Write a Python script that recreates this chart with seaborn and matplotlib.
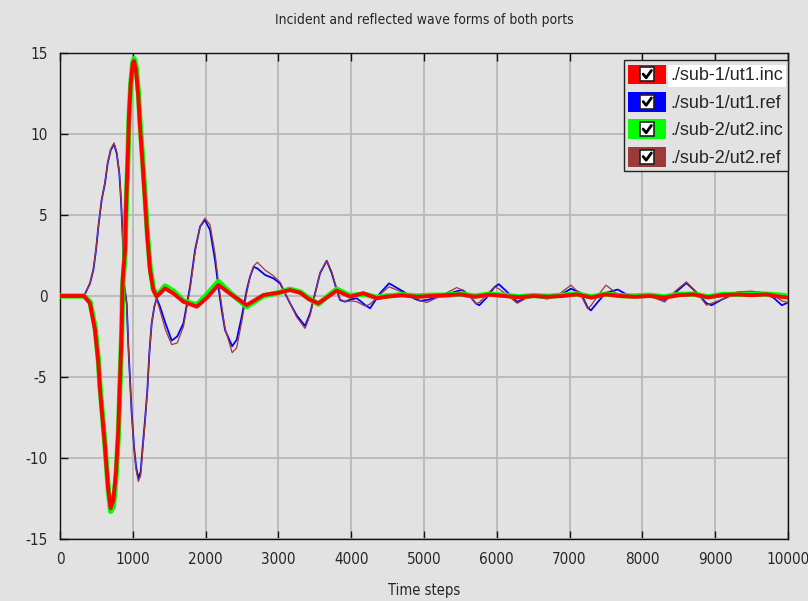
import matplotlib
matplotlib.use("Agg")
import matplotlib.pyplot as plt
from matplotlib import font_manager
import seaborn as sns
import pandas as pd
from matplotlib.patches import Patch, Rectangle
from matplotlib.lines import Line2D
from matplotlib.legend_handler import HandlerBase

# ---------------- data ----------------
inc_t = [0, 330, 412, 481, 527, 550, 586, 618, 641, 664,
         696, 733, 769, 801, 824, 847, 861, 893, 907, 930,
         948, 971, 999, 1017, 1044, 1076, 1099, 1131, 1168, 1200,
         1237, 1282, 1328, 1443, 1560, 1695, 1878, 2020, 2175, 2350,
         2565, 2794, 3000, 3160, 3300, 3420, 3549, 3680, 3801, 3984,
         4167, 4351, 4488, 4700, 4900, 5100, 5300, 5500, 5700, 5900,
         6100, 6300, 6500, 6700, 6900, 7100, 7300, 7500, 7700, 7900,
         8100, 8300, 8500, 8700, 8900, 9100, 9300, 9500, 9700, 9900,
         10000]
ut1_inc = [0, 0, -0.45, -2.1, -4.15, -5.8, -7.65, -9.3, -10.7, -12.0,
           -13.1, -12.6, -10.9, -8.3, -5.2, -2.1, 1.0, 2.84, 5.5, 8.4,
           11.1, 13.1, 14.36, 14.5, 13.95, 12.3, 10.45, 8.4, 5.9, 3.66,
           1.6, 0.37, -0.04, 0.47, 0.15, -0.35, -0.66, -0.1, 0.68, 0.1,
           -0.56, 0.06, 0.2, 0.37, 0.2, -0.2, -0.45, -0.05, 0.33, -0.04,
           0.17, -0.14, -0.04, 0.05, -0.05, 0.0, 0.05, 0.1, -0.05, 0.08,
           0.0, -0.08, 0.0, -0.05, 0.0, 0.1, -0.1, 0.1, 0.0, -0.05,
           0.0, -0.1, 0.05, 0.1, -0.08, 0.05, 0.1, 0.05, 0.1, -0.05,
           -0.1]
ut2_inc = [0, 0, -0.35, -1.9, -3.9, -5.6, -7.5, -9.2, -10.6, -12.0,
           -13.3, -13.0, -11.2, -8.6, -5.5, -2.4, 0.6, 2.6, 5.2, 8.1,
           10.9, 13.0, 14.4, 14.65, 14.2, 12.6, 10.8, 8.7, 6.2, 3.9,
           1.8, 0.45, 0.0, 0.62, 0.3, -0.3, -0.55, 0.1, 0.9, 0.15,
           -0.66, 0.0, 0.2, 0.42, 0.25, -0.15, -0.5, 0.0, 0.42, 0.02,
           0.12, -0.08, 0.0, 0.08, 0.0, 0.05, 0.05, 0.12, 0.0, 0.12,
           0.05, -0.05, 0.03, -0.02, 0.05, 0.12, -0.05, 0.12, 0.02, 0.0,
           0.05, -0.05, 0.1, 0.12, -0.05, 0.1, 0.1, 0.1, 0.12, 0.05,
           0.0]

ref_t = [0, 330, 412, 458, 495, 527, 572, 618, 655, 696,
         742, 779, 815, 838, 861, 879, 916, 939, 962, 985,
         1017, 1044, 1076, 1108, 1136, 1168, 1200, 1227, 1259, 1296,
         1328, 1374, 1450, 1534, 1610, 1695, 1786, 1855, 1924, 1990,
         2061, 2130, 2175, 2221, 2267, 2365, 2427, 2496, 2565, 2611,
         2660, 2711, 2817, 2931, 3023, 3160, 3251, 3366, 3435, 3504,
         3572, 3664, 3733, 3801, 3847, 3916, 4000, 4076, 4190, 4259,
         4396, 4520, 4717, 4854, 4950, 5040, 5250, 5450, 5530, 5630,
         5710, 5760, 5860, 5968, 6028, 6130, 6280, 6400, 6550, 6690,
         6850, 7018, 7150, 7247, 7293, 7400, 7500, 7662, 7800, 8000,
         8150, 8306, 8450, 8604, 8750, 8880, 8950, 9100, 9300, 9500,
         9650, 9800, 9915, 10000]
ut1_ref = [0, 0, 0.78, 1.6, 2.84, 4.28, 5.93, 6.96, 8.2, 9.0,
           9.38, 8.8, 7.57, 5.93, 3.66, 0.78, -0.45, -3.1, -5.2, -7.24,
           -9.3, -10.5, -11.25, -10.85, -9.3, -7.65, -5.8, -3.54, -1.69, -0.66,
           -0.14, -0.66, -1.7, -2.75, -2.5, -1.69, 0.57, 2.84, 4.28, 4.7,
           4.07, 2.2, 0.57, -0.86, -2.1, -3.1, -2.7, -1.28, 0.37, 1.2,
           1.8, 1.7, 1.3, 1.09, 0.78, -0.45, -1.2, -1.85, -1.07, 0.17,
           1.4, 2.18, 1.4, 0.37, -0.25, -0.35, -0.2, -0.14, -0.55, -0.76,
           0.17, 0.78, 0.27, -0.14, -0.3, -0.25, 0.0, 0.3, 0.36, 0.0,
           -0.45, -0.57, -0.1, 0.55, 0.73, 0.3, -0.37, -0.1, -0.05, -0.16,
           0.0, 0.45, 0.2, -0.7, -0.89, -0.3, 0.2, 0.4, 0.05, 0.0,
           -0.05, -0.25, 0.2, 0.8, 0.2, -0.45, -0.57, -0.2, 0.2, 0.25,
           0.2, -0.1, -0.57, -0.4]
ut2_ref = [0, 0, 0.8, 1.65, 2.9, 4.3, 5.95, 7.0, 8.25, 9.05,
           9.45, 8.9, 7.65, 6.0, 3.7, 0.8, -0.5, -3.1, -5.25, -7.3,
           -9.4, -10.7, -11.45, -11.1, -9.5, -7.8, -5.9, -3.6, -1.7, -0.6,
           -0.2, -0.9, -2.1, -3.0, -2.9, -1.9, 0.4, 2.7, 4.3, 4.8,
           4.4, 2.6, 0.9, -0.6, -2.0, -3.5, -3.2, -1.6, 0.2, 1.2,
           1.85, 2.08, 1.6, 1.25, 0.85, -0.45, -1.3, -2.0, -1.2, 0.1,
           1.45, 2.18, 1.5, 0.45, -0.2, -0.35, -0.3, -0.35, -0.62, -0.5,
           0.1, 0.57, 0.2, 0.05, -0.3, -0.4, 0.05, 0.52, 0.35, 0.0,
           -0.47, -0.4, 0.1, 0.56, 0.45, 0.1, -0.45, -0.15, 0.0, -0.05,
           0.1, 0.67, 0.1, -0.78, -0.6, 0.1, 0.67, 0.1, 0.0, 0.0,
           -0.1, -0.37, 0.3, 0.87, 0.2, -0.57, -0.45, -0.2, 0.25, 0.3,
           0.2, 0.05, -0.3, -0.4]

labels = ["./sub-1/ut1.inc", "./sub-1/ut1.ref", "./sub-2/ut2.inc", "./sub-2/ut2.ref"]
colors = ["#ff0000", "#0000ff", "#00ff00", "#9c3a3a"]
x_ticks = [0, 1000, 2000, 3000, 4000, 5000, 6000, 7000, 8000, 9000, 10000]
y_ticks = [-15, -10, -5, 0, 5, 10, 15]
title = "Incident and reflected wave forms of both ports"
xlabel = "Time steps"

# ---------------- style ----------------
BG = "#e2e2e2"
sns.set_theme(style="ticks")

# pick a narrow face if one is installed
names = {f.name for f in font_manager.fontManager.ttflist}
narrow_fp = None
for cand in ["Liberation Sans Narrow", "Arial Narrow", "DejaVu Sans Condensed"]:
    if cand in names:
        narrow_fp = cand
        break
stretch = "normal"
if narrow_fp is None:
    cond = [f for f in font_manager.fontManager.ttflist
            if f.name == "DejaVu Sans" and "ondensed" in str(f.fname)]
    if cond:
        narrow_fp = "DejaVu Sans"
        stretch = "condensed"
if narrow_fp is None:
    narrow_fp = "DejaVu Sans"
    scale = 0.86
else:
    scale = 1.0

plt.rcParams["font.family"] = [narrow_fp, "DejaVu Sans"]
plt.rcParams["font.stretch"] = stretch
plt.rcParams["axes.unicode_minus"] = False

fig = plt.figure(figsize=(8.08, 6.01), dpi=100, facecolor=BG)
ax = fig.add_axes([60 / 808, 1 - 539 / 601, 728 / 808, 486 / 601])
ax.set_facecolor(BG)

df_inc = pd.DataFrame({"t": inc_t, "ut1": ut1_inc, "ut2": ut2_inc})
df_ref = pd.DataFrame({"t": ref_t, "ut1": ut1_ref, "ut2": ut2_ref})

common = dict(estimator=None, sort=False, legend=False, ax=ax)
sns.lineplot(data=df_ref, x="t", y="ut1", color=colors[1], lw=1.3, zorder=3, **common)
sns.lineplot(data=df_ref, x="t", y="ut2", color=colors[3], lw=0.9, zorder=4, **common)
sns.lineplot(data=df_inc, x="t", y="ut2", color=colors[2], lw=3.8, zorder=5, **common)
sns.lineplot(data=df_inc, x="t", y="ut1", color=colors[0], lw=2.8, zorder=6, **common)

ax.set_xlim(0, 10000)
ax.set_ylim(-15, 15)
ax.set_xticks(x_ticks)
ax.set_yticks(y_ticks)
ax.set_xticklabels([str(v) for v in x_ticks])
ax.set_yticklabels([str(v) for v in y_ticks])
ax.grid(True, color="#b9b9b9", lw=1.3)
ax.set_axisbelow(True)
for s in ax.spines.values():
    s.set_color("#111111")
    s.set_linewidth(1.0)
    s.set_visible(True)
ax.tick_params(axis="both", which="major", direction="in", length=6, width=1,
               color="#111111", labelsize=11 * scale, pad=9, top=True, right=False)
ax.set_xlabel(xlabel, fontsize=10.5 * scale, labelpad=12)
ax.set_ylabel("")
ax.set_title(title, fontsize=10 * scale, pad=21)


class CheckHandler(HandlerBase):
    def create_artists(self, legend, orig_handle, xdescent, ydescent,
                       width, height, fontsize, trans):
        col = orig_handle.get_facecolor()
        x0, y0 = -xdescent, -ydescent
        r = Rectangle((x0, y0), width, height, facecolor=col,
                      edgecolor="none", transform=trans)
        cw = height * 0.7
        cx = x0 + width / 2 - cw / 2
        cy = y0 + height / 2 - cw / 2
        box = Rectangle((cx, cy), cw, cw, facecolor="white",
                        edgecolor="#202020", lw=1.2, transform=trans)
        chk = Line2D([cx + 0.2 * cw, cx + 0.42 * cw, cx + 0.8 * cw],
                     [cy + 0.52 * cw, cy + 0.25 * cw, cy + 0.78 * cw],
                     color="black", lw=2.0, transform=trans)
        return [r, box, chk]


handles = [Patch(facecolor=c) for c in colors]
leg = ax.legend(handles, labels, handler_map={Patch: CheckHandler()},
                loc="upper right", bbox_to_anchor=(1.0, 1 - 7 / 486),
                borderaxespad=0, frameon=True, fancybox=False,
                prop={"family": ["Liberation Sans", "DejaVu Sans"],
                      "stretch": "normal", "size": 13},
                handlelength=2.1, handleheight=1.3, handletextpad=0.25,
                labelspacing=0.42, borderpad=0.25)
leg.get_frame().set_facecolor(BG)
leg.get_frame().set_edgecolor("#222222")
leg.get_frame().set_linewidth(1.0)
leg.get_frame().set_alpha(1)
leg.set_zorder(10)
leg.get_texts()[0].set_bbox(dict(facecolor="white", edgecolor="none", pad=2))

fig.savefig("out.png", dpi=100, facecolor=BG)
